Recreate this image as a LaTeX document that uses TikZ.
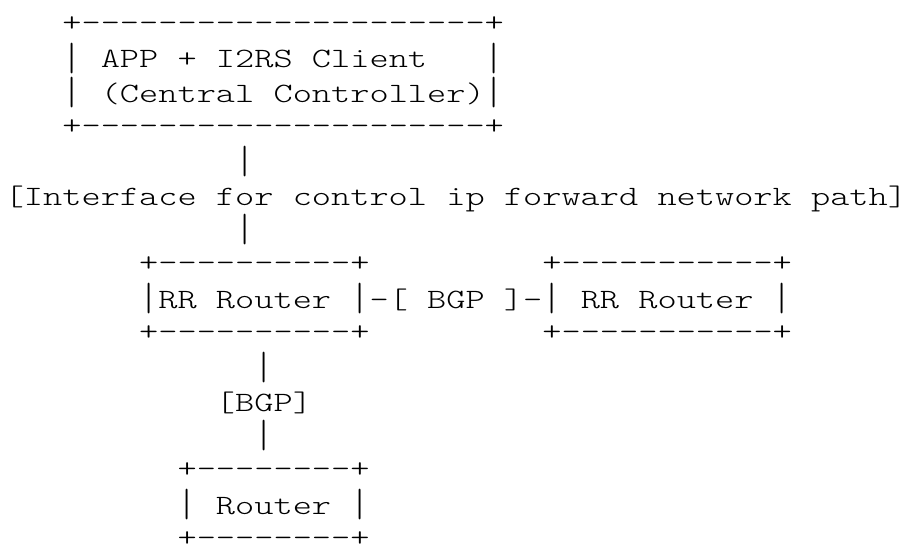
\documentclass[tikz,border=0pt]{standalone}
\usepackage{fontspec}
\newfontfamily\asciifont{lmmonolt10-regular.otf}[FakeStretch=1.306]
\usepackage{tikz}

\newcommand{\vbar}{\raisebox{-1.2pt}{\scalebox{1}[1.4]{|}}}

\tikzset{ascii/.style={inner sep=0pt, outer sep=0pt, anchor=base west, font=\asciifont\fontsize{14pt}{16pt}\selectfont},
	asciiedge/.style={ascii, yshift=1pt}}

\begin{document}
\begin{tikzpicture}[x=9.6pt, y=-17.165pt]
				\useasboundingbox (-0.25,-0.973) rectangle (46.94,14.873);
				
				\node[asciiedge] (ctrltop) at (3,0) {+---------------------+};
				\node[ascii] (ctrlleft) at (3,1) {\vbar};
				\node[ascii] (ctrlapp) at (5,1) {APP + I2RS Client};
				\node[ascii] (ctrlright) at (25,1) {\vbar};
				\node[ascii] (ctrlleftb) at (3,2) {\vbar};
				\node[ascii] (ctrlname) at (5,2) {(Central Controller)\vbar};
				\node[asciiedge] (ctrlbot) at (3,3) {+---------------------+};
				
				\node[ascii] (upbar) at (12,4) {\vbar};
				\node[ascii] (iface) at (0,5) {[Interface for control ip forward network path]};
				\node[ascii] (downbar) at (12,6) {\vbar};
				
				\node[asciiedge] (rrtop) at (7,7) {+----------+};
				\node[ascii] (rr) at (7,8) {\vbar RR Router \vbar};
				\node[asciiedge] (rrbot) at (7,9) {+----------+};
				
				\node[ascii] (peerlink) at (19,8) {-[ BGP ]-};
				
				\node[asciiedge] (peertop) at (28,7) {+-----------+};
				\node[ascii] (peer) at (28,8) {\vbar{} RR Router \vbar};
				\node[asciiedge] (peerbot) at (28,9) {+-----------+};
				
				\node[ascii] (bgpup) at (13,10) {\vbar};
				\node[ascii] (bgp) at (11,11) {[BGP]};
				\node[ascii] (bgpdown) at (13,12) {\vbar};
				
				\node[asciiedge] (routertop) at (9,13) {+--------+};
				\node[ascii] (router) at (9,14) {\vbar{} Router \vbar};
				\node[asciiedge] (routerbot) at (9,15) {+--------+};
			\end{tikzpicture}
\end{document}
